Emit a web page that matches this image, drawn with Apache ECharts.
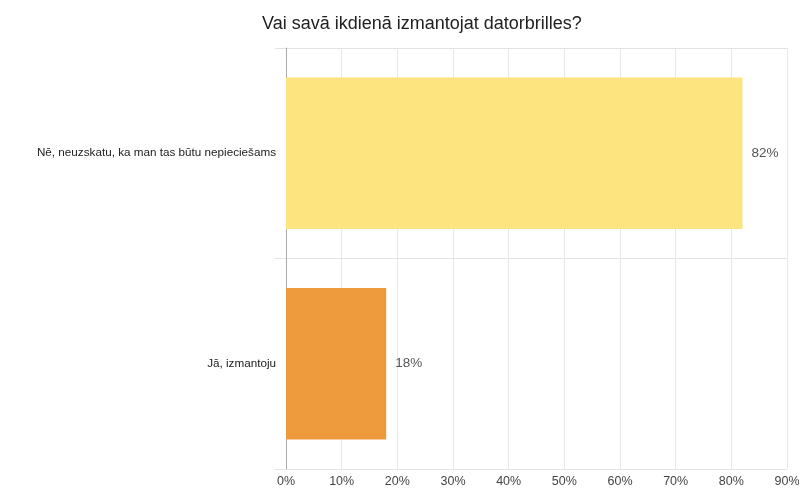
<!DOCTYPE html>
<html>
<head>
<meta charset="utf-8">
<script src="https://cdn.jsdelivr.net/npm/echarts@6/dist/echarts.min.js"></script>
<style>
  html, body { margin: 0; padding: 0; background: #fff; overflow: hidden; }
  #chart { width: 799px; height: 491px; }
</style>
</head>
<body>
<div id="chart"></div>
<script>
// Survey answers and their shares (percent)
const titleText = 'Vai savā ikdienā izmantojat datorbrilles?';
const categories = ['Nē, neuzskatu, ka man tas būtu nepieciešams', 'Jā, izmantoju'];
const shares = [82, 18];
const barColors = ['#fde47f', '#ee9b3e'];
const tickValues = [0, 10, 20, 30, 40, 50, 60, 70, 80, 90];

const FONT = '"Liberation Sans", Arial, sans-serif';
const chart = echarts.init(document.getElementById('chart'), null, { renderer: 'canvas', width: 799, height: 491 });

chart.setOption({
  animation: false,
  backgroundColor: '#ffffff',
  title: {
    text: titleText,
    left: 257,
    top: 10,
    textStyle: { fontFamily: FONT, fontSize: 18, fontWeight: 'normal', color: '#212121' }
  },
  grid: {
    left: 286, width: 501, top: 48, bottom: 22,
    containLabel: false,
    // keep the plot box fixed even though the last tick label touches the edge
    outerBoundsMode: 'none'
  },
  xAxis: {
    type: 'value',
    min: tickValues[0],
    max: tickValues[tickValues.length - 1],
    interval: 10,
    axisLine: { show: false },
    axisTick: { show: false },
    splitLine: { show: true, lineStyle: { color: '#e8e8e8', width: 1 } },
    axisLabel: {
      formatter: v => v + '%',
      margin: 6,
      fontFamily: FONT,
      fontSize: 12.5,
      color: '#444'
    }
  },
  yAxis: {
    type: 'category',
    data: categories,
    inverse: true,
    axisLine: { show: true, lineStyle: { color: '#aaaaaa', width: 1 } },
    axisTick: { show: true, length: 11, lineStyle: { color: '#e3e3e3', width: 1 } },
    splitLine: { show: true, lineStyle: { color: '#e3e3e3', width: 1 } },
    axisLabel: {
      margin: 10,
      fontFamily: FONT,
      fontSize: 11.7,
      color: '#222'
    }
  },
  series: [{
    type: 'bar',
    data: shares.map((v, i) => ({ value: v, itemStyle: { color: barColors[i] } })),
    barCategoryGap: '28%',
    label: {
      show: true,
      position: 'right',
      distance: 9,
      formatter: p => p.value + '%',
      fontFamily: FONT,
      fontSize: 13.5,
      color: '#555'
    }
  }]
});
</script>
</body>
</html>
